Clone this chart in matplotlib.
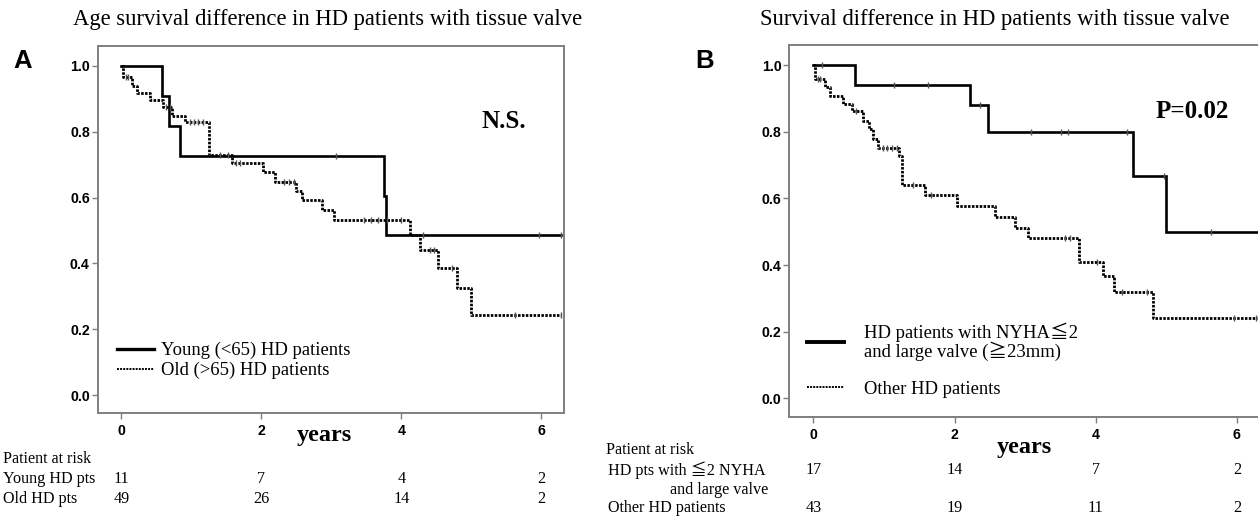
import numpy as np
import matplotlib
matplotlib.use("Agg")
import matplotlib.pyplot as plt
from matplotlib.transforms import blended_transform_factory
from matplotlib.lines import Line2D

# ---------------- data ----------------
# Panel A: Young (<65) HD patients
young_t = [0, 0.58, 0.68, 0.84, 3.75, 3.78]
young_s = [1.0, 0.909, 0.818, 0.727, 0.606, 0.485]
young_end = 6.28
young_cens = [3.07, 4.31, 5.97, 6.28]

# Panel A: Old (>65) HD patients
old_t = [0, 0.03, 0.15, 0.23, 0.41, 0.60, 0.72, 0.91, 1.25, 1.58, 2.03, 2.20,
         2.49, 2.58, 2.87, 3.04, 4.12, 4.26, 4.52, 4.80, 5.00]
old_s = [1.0, 0.965, 0.94, 0.917, 0.896, 0.874, 0.848, 0.828, 0.729, 0.704, 0.677,
         0.648, 0.621, 0.591, 0.561, 0.532, 0.485, 0.441, 0.386, 0.325, 0.242]
old_end = 6.28
old_cens = [0.07, 0.10, 0.64, 0.69, 0.98, 1.04, 1.10, 1.17, 1.41, 1.52, 1.64, 1.70,
            2.32, 2.40, 2.46, 3.46, 3.56, 3.66, 3.80, 3.99, 4.41, 4.47, 4.72, 5.62, 6.28]

# Panel B: HD patients with NYHA<=2 and large valve
good_t = [0, 0.585, 2.22, 2.48, 4.53, 4.995]
good_s = [1.0, 0.941, 0.879, 0.799, 0.666, 0.50]
good_end = 6.40
good_cens = [0.12, 1.14, 1.63, 2.36, 3.08, 3.51, 3.61, 4.44, 4.97, 5.63]

# Panel B: Other HD patients
oth_t = [0, 0.03, 0.16, 0.24, 0.42, 0.55, 0.70, 0.79, 0.85, 0.92, 1.21, 1.25, 1.58,
         2.04, 2.58, 2.86, 3.04, 3.76, 4.11, 4.26, 4.81]
oth_s = [1.0, 0.957, 0.934, 0.906, 0.882, 0.862, 0.832, 0.807, 0.777, 0.752, 0.727,
         0.639, 0.609, 0.577, 0.544, 0.512, 0.480, 0.41, 0.367, 0.32, 0.24]
oth_end = 6.28
oth_cens = [0.07, 0.10, 0.60, 0.99, 1.05, 1.12, 1.18, 1.41, 1.67, 3.57, 3.64, 4.02,
            4.37, 4.72, 5.96, 6.27]

xticks = [0, 2, 4, 6]
yticks = [0.0, 0.2, 0.4, 0.6, 0.8, 1.0]
ytick_labels = ["0.0", "0.2", "0.4", "0.6", "0.8", "1.0"]

riskA_rows = ["Young HD pts", "Old HD pts"]
riskA_young = [11, 7, 4, 2]
riskA_old = [49, 26, 14, 2]
riskB_good = [17, 14, 7, 2]
riskB_other = [43, 19, 11, 2]

titleA = "Age survival difference in HD patients with tissue valve"
titleB = "Survival difference in HD patients with tissue valve"
labelA1 = "Young (<65) HD patients"
labelA2 = "Old (>65) HD patients"
labelB1 = "HD patients with NYHA\u22662\nand large valve (\u226723mm)"
labelB2 = "Other HD patients"

# ---------------- figure ----------------
W, H = 1258, 520
fig = plt.figure(figsize=(W / 100, H / 100), dpi=100)

SERIF = ["Liberation Serif", "Noto Sans CJK JP", "DejaVu Serif"]
SANS = "Liberation Sans"
SPINE = "#7f7f7f"
DOT = (0, (0.9, 0.5))


def px(x, y):
    return x / W, 1 - y / H


def ftext(x, y, s, **kw):
    fx, fy = px(x, y)
    kw.setdefault("family", SERIF)
    return fig.text(fx, fy, s, **kw)


def make_ax(l, t, r, b):
    x0, y1 = px(l, t)
    x1, y0 = px(r, b)
    ax = fig.add_axes([x0, y0, x1 - x0, y1 - y0])
    ax.set_xlim(-0.34, 6.32)
    ax.set_ylim(-0.055, 1.06)
    for side in ["top", "right", "left", "bottom"]:
        ax.spines[side].set_color(SPINE)
        ax.spines[side].set_linewidth(1.4)
    ax.set_xticks(xticks)
    ax.set_xticklabels([str(v) for v in xticks])
    ax.set_yticks(yticks)
    ax.set_yticklabels(ytick_labels)
    ax.tick_params(direction="out", length=4, width=1.0, color=SPINE,
                   labelsize=10.2, pad=1.5)
    ax.tick_params(axis="x", pad=4)
    for lab in ax.get_xticklabels() + ax.get_yticklabels():
        lab.set_family(SANS)
        lab.set_fontweight("bold")
    return ax


def km(ax, t, s, end, cens, style, lw):
    tt = list(t) + [end]
    ss = list(s) + [s[-1]]
    ax.step(tt, ss, where="post", color="black", linewidth=lw,
            linestyle=style, solid_joinstyle="miter", dash_capstyle="butt")
    idx = np.searchsorted(np.asarray(t), np.asarray(cens), side="right") - 1
    cy = np.asarray(s)[idx]
    ax.plot(cens, cy, linestyle="none", marker="|", markersize=5,
            markeredgewidth=1.0, color="#555555")


# ---------------- Panel A ----------------
axA = make_ax(97.5, 46, 563.7, 413.3)
km(axA, young_t, young_s, young_end, young_cens, "-", 1.9)
km(axA, old_t, old_s, old_end, old_cens, DOT, 2.0)
axA.text(5.46, 0.83, "N.S.", family=SERIF, fontweight="bold", fontsize=18,
         ha="center", va="center")
hA = [Line2D([], [], color="black", lw=2.4),
      Line2D([], [], color="black", lw=1.4, linestyle=(0, (1, 0.6)))]
legA = axA.legend(hA, [labelA1, labelA2], loc="upper left",
                  bbox_to_anchor=px(117, 342), bbox_transform=fig.transFigure,
                  frameon=False, prop={"family": SERIF, "size": 13.4},
                  handlelength=2.0, handletextpad=0.35, labelspacing=0.15,
                  borderpad=0, borderaxespad=0)

ftext(73, 20, titleA, fontsize=16.3, va="center", ha="left")
fig.text(*px(23, 61), "A", family=SANS, fontweight="bold", fontsize=18.5,
         ha="center", va="center")
ftext(324, 436, "years", fontsize=17.5, fontweight="bold", ha="center", va="center")

trA = blended_transform_factory(axA.transData, fig.transFigure)
ftext(3, 459, "Patient at risk", fontsize=11.6, va="center")
ftext(3, 479, riskA_rows[0], fontsize=11.6, va="center")
ftext(3, 499, riskA_rows[1], fontsize=11.6, va="center")
for xv, a, b in zip(xticks, riskA_young, riskA_old):
    axA.text(xv, 1 - 479 / H, str(a), transform=trA, family=SERIF, fontsize=11.6,
             ha="center", va="center")
    axA.text(xv, 1 - 499 / H, str(b), transform=trA, family=SERIF, fontsize=11.6,
             ha="center", va="center")

# ---------------- Panel B ----------------
axB = make_ax(789.3, 45, 1259.5, 416.7)
axB.spines["right"].set_visible(False)
km(axB, good_t, good_s, good_end, good_cens, "-", 1.9)
km(axB, oth_t, oth_s, oth_end, oth_cens, DOT, 2.0)
axB.text(5.37, 0.86, "P=0.02", family=SERIF, fontweight="bold", fontsize=18,
         ha="center", va="center")
hB = [Line2D([], [], color="black", lw=2.8),
      Line2D([], [], color="black", lw=1.4, linestyle=(0, (1, 0.6)))]
legB = axB.legend(hB, [labelB1, labelB2], loc="upper left",
                  bbox_to_anchor=px(807, 323), bbox_transform=fig.transFigure,
                  frameon=False, prop={"family": SERIF, "size": 13.4},
                  handlelength=2.0, handletextpad=1.05, labelspacing=1.05,
                  borderpad=0, borderaxespad=0)
for t in legB.get_texts():
    t.set_linespacing(0.95)

ftext(760, 20, titleB, fontsize=16.3, va="center", ha="left")
fig.text(*px(705, 61), "B", family=SANS, fontweight="bold", fontsize=18.5,
         ha="center", va="center")
ftext(1024, 447, "years", fontsize=17.5, fontweight="bold", ha="center", va="center")

trB = blended_transform_factory(axB.transData, fig.transFigure)
ftext(606, 450, "Patient at risk", fontsize=11.6, va="center")
ftext(608, 470, "HD pts with \u22662 NYHA", fontsize=11.6, va="center")
ftext(768, 490, "and large valve", fontsize=11.6, va="center", ha="right")
ftext(608, 508, "Other HD patients", fontsize=11.6, va="center")
for xv, a, b in zip(xticks, riskB_good, riskB_other):
    axB.text(xv, 1 - 470 / H, str(a), transform=trB, family=SERIF, fontsize=11.6,
             ha="center", va="center")
    axB.text(xv, 1 - 508 / H, str(b), transform=trB, family=SERIF, fontsize=11.6,
             ha="center", va="center")

fig.savefig("out.png", dpi=100)
